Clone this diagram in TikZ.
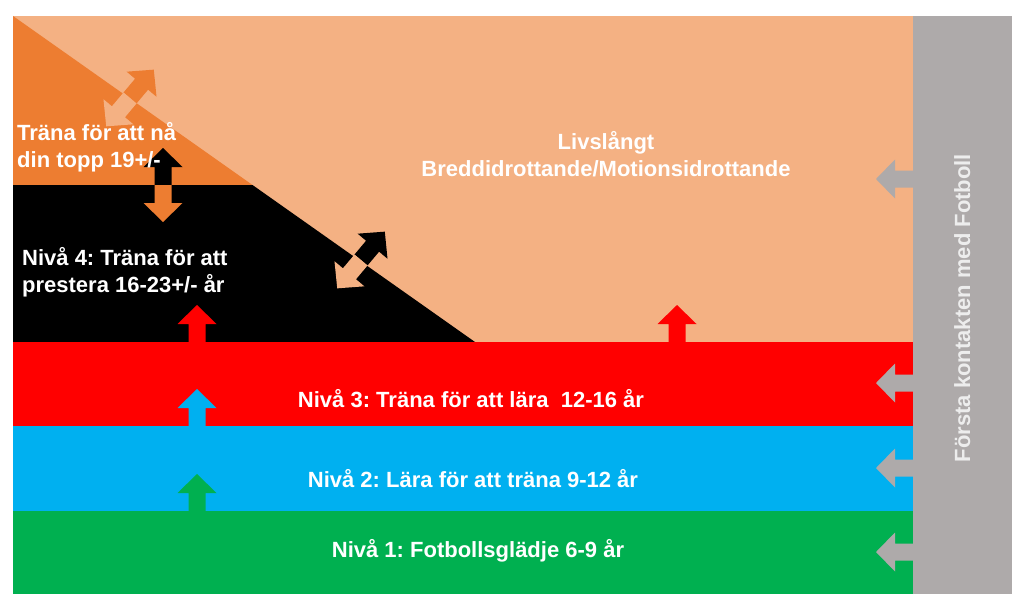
\documentclass[tikz,border=0pt]{standalone}
\usepackage{fontspec}
\setmainfont{Liberation Sans}
\frenchspacing
\definecolor{lightor}{HTML}{F4B183}
\definecolor{darkor}{HTML}{ED7D31}
\definecolor{myred}{HTML}{FF0000}
\definecolor{myblue}{HTML}{00B0F0}
\definecolor{mygreen}{HTML}{00B050}
\definecolor{mygray}{HTML}{AEAAAA}
\definecolor{graytext}{HTML}{EDEDED}
\begin{document}
\begin{tikzpicture}[x=1pt,y=-1pt,
  lbl/.style={text=white,font=\bfseries\fontsize{22}{27}\selectfont,inner sep=0pt},
  pics/blockarrow/.style={code={\fill (0,-8.5) -- (18,-8.5) -- (18,-19.5) -- (37,0) -- (18,19.5) -- (18,8.5) -- (0,8.5) -- cycle;}}]
\useasboundingbox (0,0) rectangle (1024,615);
\fill[white] (0,0) rectangle (1024,615);
% regions
\fill[lightor] (13,16) rectangle (913,342);
\fill[darkor] (13,16) -- (252.5,185) -- (13,185) -- cycle;
\fill[black] (13,185) -- (252.5,185) -- (475,342) -- (13,342) -- cycle;
\fill[myred] (13,342) rectangle (913,426);
\fill[myblue] (13,426) rectangle (913,511);
\fill[mygreen] (13,511) rectangle (913,594);
\fill[mygray] (913,16) rectangle (1012,594);
% diagonal double arrows
\pic[fill=darkor,rotate=50] at (130,98) {blockarrow};
\pic[fill=lightor,rotate=230] at (130,98) {blockarrow};
\pic[fill=black,rotate=50] at (361,260) {blockarrow};
\pic[fill=lightor,rotate=230] at (361,260) {blockarrow};
% vertical double arrow
\pic[fill=black,rotate=90] at (163,185) {blockarrow};
\pic[fill=darkor,rotate=270] at (163,185) {blockarrow};
% upward arrows
\pic[fill=myred,rotate=90] at (197,342) {blockarrow};
\pic[fill=myred,rotate=90] at (677,342) {blockarrow};
\pic[fill=myblue,rotate=90] at (197,426) {blockarrow};
\pic[fill=mygreen,rotate=90] at (197,511) {blockarrow};
% gray arrows
\pic[fill=mygray,rotate=180] at (913,179) {blockarrow};
\pic[fill=mygray,rotate=180] at (913,383) {blockarrow};
\pic[fill=mygray,rotate=180] at (913,468) {blockarrow};
\pic[fill=mygray,rotate=180] at (913,552) {blockarrow};
% texts
\node[lbl,align=left,anchor=base west] (topp) at (17,167) {Träna för att nå\\din topp 19+/-};
\node[lbl,align=left,anchor=base west] (niva4) at (22,292) {Nivå 4: Träna för att\\prestera 16-23+/- år};
\node[lbl,align=center,anchor=base] (livs) at (606,176) {Livslångt\\Breddidrottande/Motionsidrottande};
\node[lbl,anchor=base] (niva3) at (471,407) {Nivå 3: Träna för att lära\ \ 12-16 år};
\node[lbl,anchor=base] (niva2) at (473,487) {Nivå 2: Lära för att träna 9-12 år};
\node[lbl,anchor=base] (niva1) at (478,557) {Nivå 1: Fotbollsglädje 6-9 år};
\node[lbl,text=graytext,anchor=base,rotate=90] (forsta) at (970,308) {Första kontakten med Fotboll};
\end{tikzpicture}
\end{document}
